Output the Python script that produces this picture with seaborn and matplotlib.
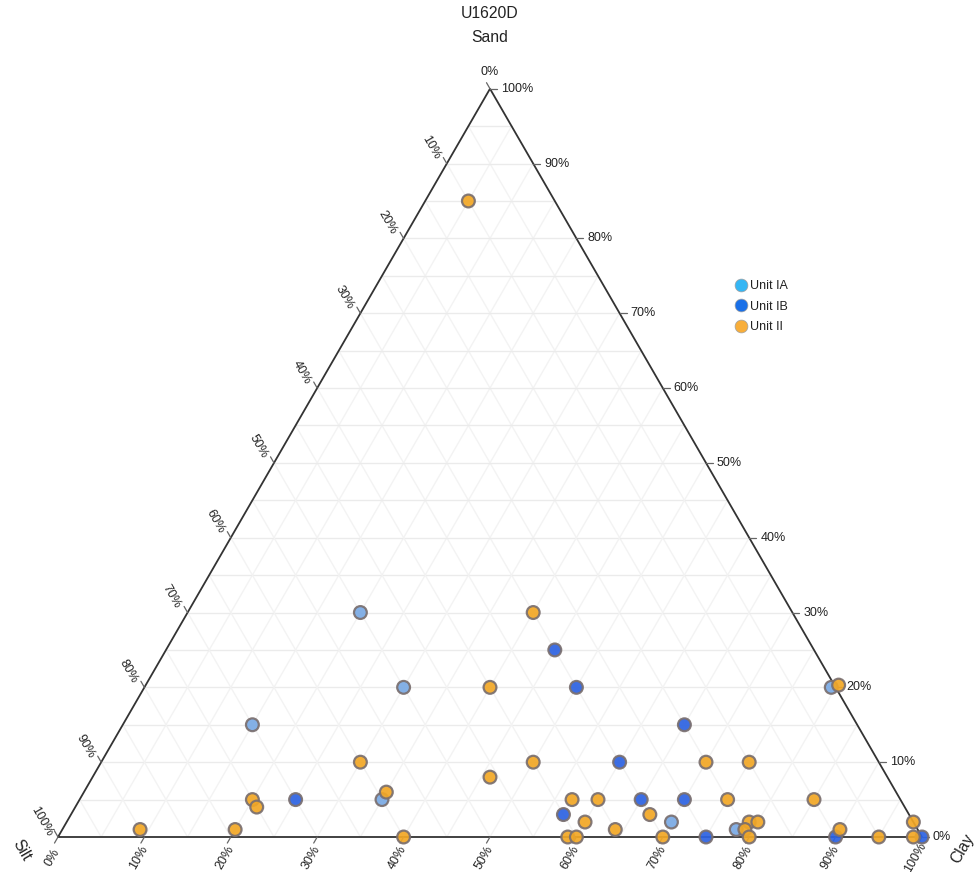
import numpy as np
import pandas as pd
import matplotlib
matplotlib.use("Agg")
import matplotlib.pyplot as plt
import seaborn as sns

# ---------------- data (percent) ----------------
units = ["Unit IA", "Unit IB", "Unit II"]

ia_sand = [30, 20, 15, 5, 2, 1, 20]
ia_clay = [20, 30, 15, 35, 70, 78, 79.5]

ib_sand = [25, 20, 15, 10, 5, 5, 5, 3, 0, 0, 0]
ib_clay = [45, 50, 65, 60, 25, 65, 70, 57, 75, 90, 100]

ii_sand = [85, 30, 20, 20.3, 10, 8, 10, 10, 10, 5, 4, 6, 1, 1, 0,
           5, 5, 2, 0, 0, 1, 3, 0, 5, 5, 2, 2, 1, 0, 1, 0, 2, 0]
ii_clay = [5, 40, 40, 80.2, 30, 46, 50, 70, 75, 20, 21, 35, 9, 20, 40,
           57, 60, 60, 59, 60, 64, 67, 70, 75, 85, 79, 80, 79, 80, 90, 95, 98, 99]

tick_values = [0, 10, 20, 30, 40, 50, 60, 70, 80, 90, 100]
tick_labels = [f"{v}%" for v in tick_values]
palette = {"Unit IA": "#7aaae4", "Unit IB": "#2c62e2", "Unit II": "#f2a725"}
legend_colors = {"Unit IA": "#35b6f4", "Unit IB": "#1a70e8", "Unit II": "#f8ae3a"}

# ---------------- build frame ----------------
sand = np.array(ia_sand + ib_sand + ii_sand, dtype=float) / 100
clay = np.array(ia_clay + ib_clay + ii_clay, dtype=float) / 100
unit = (["Unit IA"] * len(ia_sand) + ["Unit IB"] * len(ib_sand)
        + ["Unit II"] * len(ii_sand))
H = np.sqrt(3) / 2
df = pd.DataFrame({"sand": sand, "clay": clay, "unit": unit})
df["silt"] = 1 - df["sand"] - df["clay"]
df["x"] = df["clay"] + df["sand"] / 2
df["y"] = df["sand"] * H

sns.set_style("white")
plt.rcParams["font.family"] = ["Liberation Sans", "DejaVu Sans"]

W, Hpx = 978, 872
fig = plt.figure(figsize=(W / 100, Hpx / 100), dpi=100)
L, R, B = 58, 922, 837
ax = fig.add_axes([L / W, (Hpx - B) / Hpx, (R - L) / W, (R - L) * H / Hpx])
ax.set_xlim(0, 1)
ax.set_ylim(0, H)
ax.axis("off")
PX = 1 / (R - L)

# ---------------- grid ----------------
gcol_h = "#ebebeb"
gcol_d = "#f3f3f3"
for k in range(5, 100, 5):
    f = k / 100
    ax.plot([f / 2, 1 - f / 2], [f * H, f * H], color=gcol_h, lw=1, zorder=1)
    ax.plot([f, f + (1 - f) / 2], [0, (1 - f) * H], color=gcol_d, lw=1, zorder=1)
    ax.plot([1 - f, (1 - f) / 2], [0, (1 - f) * H], color=gcol_d, lw=1, zorder=1)

ax.plot([0, 1, 0.5, 0], [0, 0, H, 0], color="#333333", lw=1.3, zorder=2,
        clip_on=False, solid_joinstyle="miter")

# ---------------- ticks & labels ----------------
tl = 7 * PX
fs_tick = 9
for v, lab in zip(tick_values, tick_labels):
    f = v / 100
    x0, y0 = f, 0
    ax.plot([x0, x0 - 0.5 * tl], [y0, y0 - 0.866 * tl], color="#666666", lw=0.9,
            clip_on=False)
    ax.text(x0 - 6 * PX, y0 - 21 * PX, lab, rotation=60, ha="center", va="center",
            fontsize=fs_tick, color="#222222", rotation_mode="anchor")
    x0, y0 = 1 - f / 2, f * H
    ax.plot([x0, x0 + tl], [y0, y0], color="#666666", lw=0.9, clip_on=False)
    ax.text(x0 + 11 * PX, y0, lab, ha="left", va="center", fontsize=fs_tick,
            color="#222222")
    s = 1 - f
    x0, y0 = s / 2, s * H
    ax.plot([x0, x0 - 0.5 * tl], [y0, y0 + 0.866 * tl], color="#666666", lw=0.9,
            clip_on=False)
    if v == 0:
        ax.text(x0, y0 + 17 * PX, lab, ha="center", va="center",
                fontsize=fs_tick, color="#222222")
    else:
        ax.text(x0 - 16 * PX, y0 + 16 * PX, lab, rotation=-60, ha="center",
                va="center", fontsize=fs_tick, color="#222222",
                rotation_mode="anchor")

# ---------------- points ----------------
sns.scatterplot(data=df, x="x", y="y", hue="unit", hue_order=units,
                palette=palette, s=85, edgecolor="#7a6f6f", linewidth=1.6,
                alpha=0.92, ax=ax, zorder=4, clip_on=False)

sns.move_legend(ax, "upper left", bbox_to_anchor=(727 / W, 1 - 274 / Hpx),
                bbox_transform=fig.transFigure, frameon=False, title=None,
                fontsize=9, labelspacing=0.68, handletextpad=0.15,
                handlelength=1.2, borderpad=0)
leg = ax.get_legend()
for h, t in zip(leg.legend_handles, leg.get_texts()):
    h.set_alpha(1)
    if hasattr(h, "set_markerfacecolor"):
        h.set_markerfacecolor(legend_colors[t.get_text()])
        h.set_markeredgecolor("#a0a0a0")
        h.set_markeredgewidth(0.5)
    t.set_color("#222222")

# ---------------- titles ----------------
fig.text(490 / W, 1 - 14 / Hpx, "U1620D", ha="center", va="center", fontsize=11.3,
         color="#222222")
fig.text(490 / W, 1 - 37 / Hpx, "Sand", ha="center", va="center", fontsize=11.3,
         color="#222222")
fig.text(22 / W, 1 - 850 / Hpx, "Silt", ha="center", va="center", fontsize=11.3,
         rotation=-60, color="#222222")
fig.text(963 / W, 1 - 849 / Hpx, "Clay", ha="center", va="center", fontsize=11.3,
         rotation=60, color="#222222")

fig.savefig("out.png", dpi=100)
